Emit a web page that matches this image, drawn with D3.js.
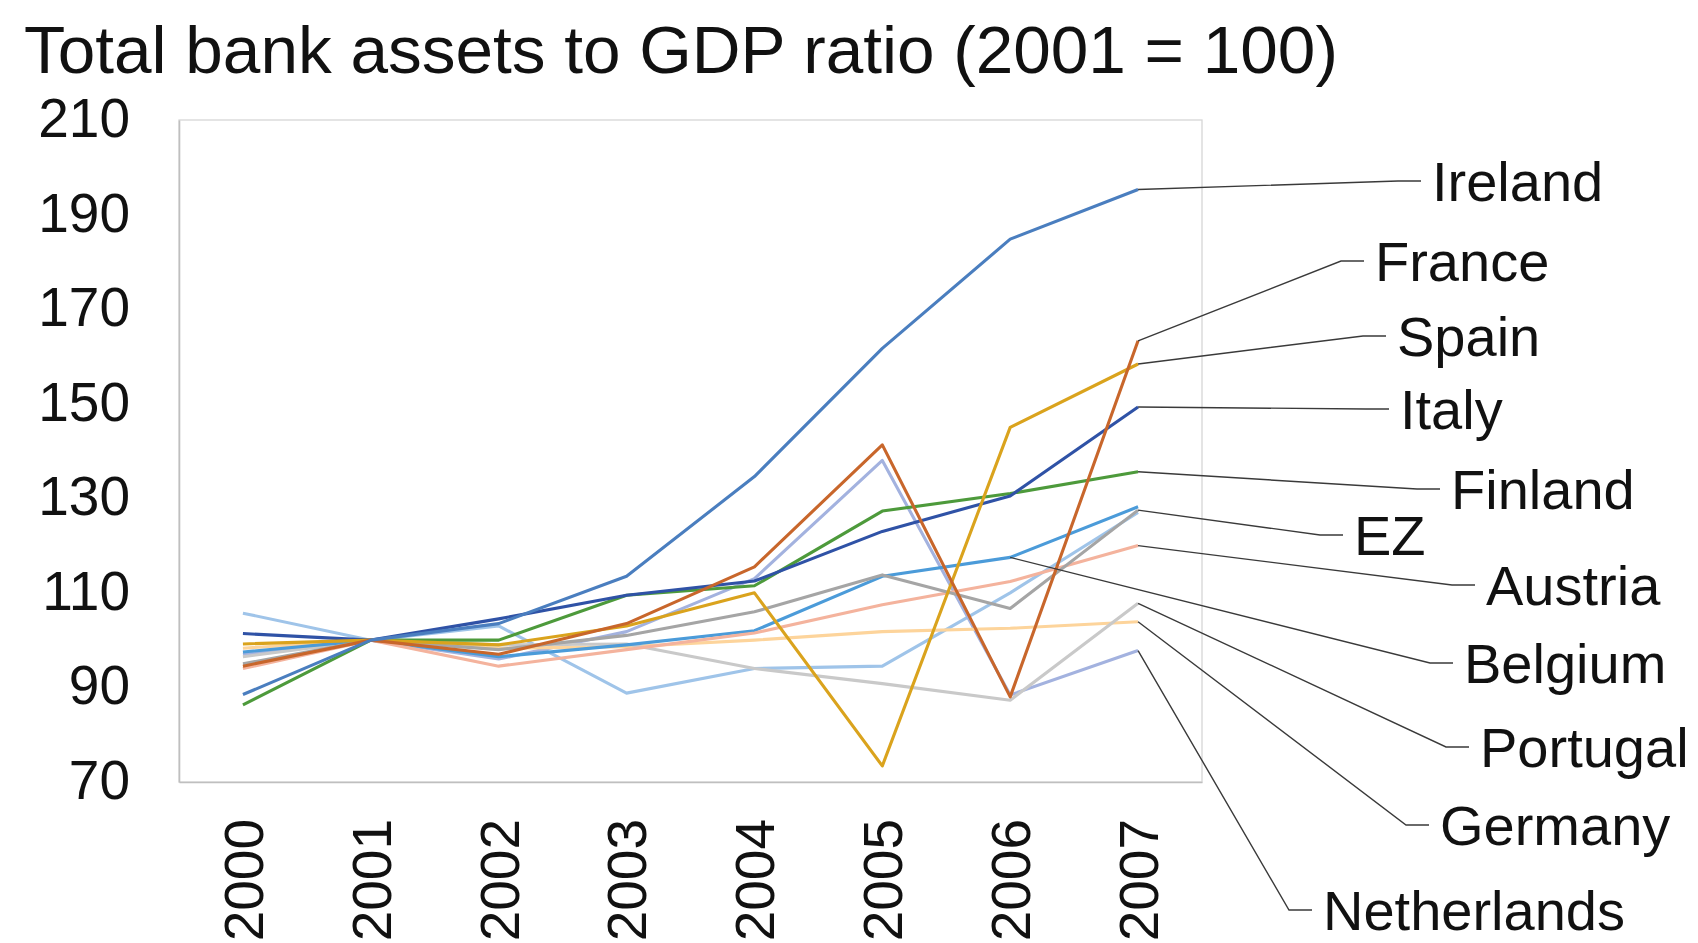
<!DOCTYPE html>
<html>
<head>
<meta charset="utf-8">
<script src="https://cdn.jsdelivr.net/npm/d3@7/dist/d3.min.js"></script>
<style>
  html, body { margin: 0; padding: 0; background: #fff; }
  svg { display: block; font-family: "Liberation Sans", Arial, sans-serif; }
</style>
</head>
<body>
<svg id="chart" width="1698" height="943"></svg>
<script>
// Years on the category axis
const years = ["2000", "2001", "2002", "2003", "2004", "2005", "2006", "2007"];

// Total bank assets to GDP, indexed so that 2001 = 100
const ireland     = [88.5, 100, 103.5, 113.5, 134.6, 161.7, 184.8, 195.3];
const france      = [94.5, 100, 97.0, 103.5, 115.5, 141.3, 88.0, 163.3];
const spain       = [99.2, 100, 99.0, 103.0, 110.0, 73.4, 145.0, 158.4];
const italy       = [101.4, 100, 104.5, 109.5, 112.5, 123.0, 130.5, 149.3];
const finland     = [86.3, 100, 100.0, 109.5, 111.5, 127.3, 131.0, 135.6];
const ez          = [95.0, 100, 98.0, 101.0, 106.0, 113.8, 106.7, 127.5];
const austria     = [94.0, 100, 94.5, 98.0, 101.5, 107.5, 112.4, 120.0];
const belgium     = [97.5, 100, 96.5, 99.0, 102.0, 113.5, 117.5, 128.2];
const portugal    = [96.5, 100, 99.0, 99.2, 94.0, 90.8, 87.3, 107.8];
const germany     = [98.3, 100, 98.3, 98.6, 100.0, 101.8, 102.5, 103.9];
const netherlands = [97.0, 100, 96.0, 101.8, 113.0, 138.0, 88.4, 97.8];
const otherSeries = [105.7, 100, 103.0, 88.8, 94.0, 94.5, 110.0, 127.0];

// Value axis ticks
const yTicks = [70, 90, 110, 130, 150, 170, 190, 210];

// Series list (drawing order) with line colours
const series = [
  { name: "Ireland",     values: ireland,     color: "#4a7ebf" },
  { name: "France",      values: france,      color: "#c8662b" },
  { name: "Spain",       values: spain,       color: "#daa31d" },
  { name: "Italy",       values: italy,       color: "#2f52a6" },
  { name: "Finland",     values: finland,     color: "#4d9a3b" },
  { name: "EZ",          values: ez,          color: "#a5a5a5" },
  { name: "Austria",     values: austria,     color: "#f4b39d" },
  { name: "Belgium",     values: belgium,     color: "#4b9bd9" },
  { name: "Portugal",    values: portugal,    color: "#c9c9c9" },
  { name: "Germany",     values: germany,     color: "#fdd49b" },
  { name: "Netherlands", values: netherlands, color: "#a3b2df" },
  { name: null,          values: otherSeries, color: "#9fc4e9" }
];

// Callout placement: text anchor (left edge, vertical centre) and the year the leader points to
const callouts = [
  { name: "Ireland",     tx: 1432, ty: 181, year: "2007" },
  { name: "France",      tx: 1375, ty: 261, year: "2007" },
  { name: "Spain",       tx: 1397, ty: 336, year: "2007" },
  { name: "Italy",       tx: 1400, ty: 409, year: "2007" },
  { name: "Finland",     tx: 1451, ty: 489, year: "2007" },
  { name: "EZ",          tx: 1354, ty: 535, year: "2007" },
  { name: "Austria",     tx: 1486, ty: 585, year: "2007" },
  { name: "Belgium",     tx: 1464, ty: 663, year: "2006" },
  { name: "Portugal",    tx: 1480, ty: 747, year: "2007" },
  { name: "Germany",     tx: 1440, ty: 825, year: "2007" },
  { name: "Netherlands", tx: 1323, ty: 910, year: "2007" }
];

const svg = d3.select("#chart");
const plot = { left: 179, top: 120, right: 1202, bottom: 782 };

const x = d3.scaleBand().domain(years).range([plot.left, plot.right]);
const y = d3.scaleLinear().domain([70, 210]).range([plot.bottom, plot.top]);
const cx = yr => x(yr) + x.bandwidth() / 2;

// Title
svg.append("text")
  .attr("x", 24).attr("y", 73)
  .attr("font-size", 67.5)
  .attr("fill", "#111")
  .text("Total bank assets to GDP ratio (2001 = 100)");

// Plot area frame
svg.append("rect")
  .attr("x", plot.left).attr("y", plot.top)
  .attr("width", plot.right - plot.left).attr("height", plot.bottom - plot.top)
  .attr("fill", "none").attr("stroke", "#d6d6d6").attr("stroke-width", 1.3);

// Value axis
const yAxis = svg.append("g")
  .attr("transform", `translate(${plot.left},0)`)
  .call(d3.axisLeft(y).tickValues(yTicks).tickSize(0).tickPadding(49));
yAxis.select(".domain").attr("stroke", "#bfbfbf").attr("stroke-width", 1.6);
yAxis.selectAll("text")
  .attr("font-size", 55).attr("fill", "#111")
  .attr("font-family", "Liberation Sans, Arial, sans-serif")
  .attr("dy", "0.3em");

// Category axis with vertical labels
const xAxis = svg.append("g")
  .attr("transform", `translate(0,${plot.bottom})`)
  .call(d3.axisBottom(x).tickSize(0).tickPadding(0));
xAxis.select(".domain").attr("stroke", "#bfbfbf").attr("stroke-width", 1.6);
xAxis.selectAll("text")
  .attr("font-size", 55).attr("fill", "#111")
  .attr("font-family", "Liberation Sans, Arial, sans-serif")
  .attr("text-anchor", "end")
  .attr("transform", "translate(0,37) rotate(-90)")
  .attr("x", 0).attr("y", 0).attr("dy", "0.36em");

// Series lines
const line = d3.line()
  .x((d, i) => cx(years[i]))
  .y(d => y(d));

svg.append("g").selectAll("path")
  .data(series.slice().reverse())
  .join("path")
  .attr("d", d => line(d.values))
  .attr("fill", "none")
  .attr("stroke", d => d.color)
  .attr("stroke-width", 3.1)
  .attr("stroke-linejoin", "round");

// Callout leaders and labels
const byName = new Map(series.filter(s => s.name).map(s => [s.name, s]));
const lab = svg.append("g");
callouts.forEach(c => {
  const s = byName.get(c.name);
  const i = years.indexOf(c.year);
  const px = cx(c.year), py = y(s.values[i]);
  const endX = c.tx - 11, kneeX = c.tx - 34;
  lab.append("path")
    .attr("d", `M${px},${py}L${kneeX},${c.ty}L${endX},${c.ty}`)
    .attr("fill", "none")
    .attr("stroke", "#3a3a3a")
    .attr("stroke-width", 1.4);
  lab.append("text")
    .attr("x", c.tx).attr("y", c.ty)
    .attr("dy", "0.36em")
    .attr("font-size", 56)
    .attr("fill", "#111")
    .text(c.name);
});
</script>
</body>
</html>
